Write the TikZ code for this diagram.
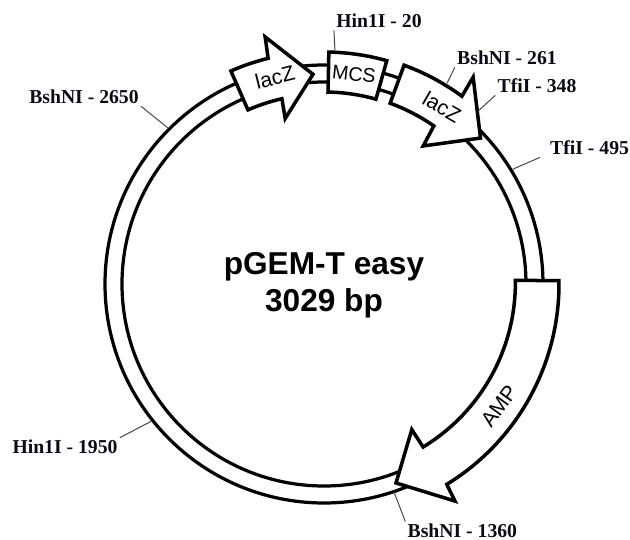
\documentclass[tikz,border=0pt]{standalone}
\usepackage{fontspec}
\setmainfont{Liberation Serif}
\setsansfont{Liberation Sans}
\usepackage{xcolor}
\usepackage{tikz}
\definecolor{mydark}{RGB}{10,10,20}
\definecolor{mytick}{RGB}{70,70,70}
\tikzset{
  ring/.style={draw=black, line width=2.3pt},
  feature/.style={draw=black, fill=white, line width=2.5pt, line join=miter},
  sitelabel/.style={font=\fontsize{14}{16}\selectfont\bfseries, text=mydark, inner sep=1.5pt},
  featlabel/.style={font=\fontsize{15}{16}\sffamily, text=black, inner sep=0pt},
  tickline/.style={draw=mytick, line width=0.7pt}
}
\begin{document}
\begin{tikzpicture}
  \useasboundingbox (-8.1,-6.4) rectangle (7.65,7.1);

  % backbone
  \draw[ring] (0,0) circle (5.475);
  \draw[ring] (0,0) circle (5.05);

  % features
  \draw[feature] (113.6:5.8125) arc[start angle=113.6, end angle=103.9, radius=5.8125]
    -- (103.4:6.35) -- (93:5.25) -- (103.2:4.25) -- (102.8:4.75)
    arc[start angle=102.8, end angle=113.6, radius=4.75] -- cycle;
  \draw[feature] (88.8:5.8) arc[start angle=88.8, end angle=74.3, radius=5.8]
    -- (74.3:4.8) arc[start angle=74.3, end angle=88.8, radius=4.8] -- cycle;
  \draw[feature] (69.9:5.825) arc[start angle=69.9, end angle=53.7, radius=5.825]
    -- (54.2:6.375) -- (43:5.35) -- (54.3:4.25) -- (55.2:4.8125)
    arc[start angle=55.2, end angle=69.9, radius=4.8125] -- cycle;
  \draw[feature] (0.8:5.875) arc[start angle=0.8, end angle=-58.5, radius=5.875]
    -- (-58.9:6.3375) -- (-70.1:5.29) -- (-58.9:4.25) -- (-58.7:4.77)
    arc[start angle=-58.7, end angle=0.8, radius=4.8] -- cycle;

  % feature names
  \node[featlabel, rotate=14] (lacza) at (-1.225,5.175) {lacZ};
  \node[featlabel, rotate=-6, font=\fontsize{14}{16}\sffamily] (mcs) at (0.75,5.25) {MCS};
  \node[featlabel, rotate=-30] (laczb) at (2.95,4.425) {lacZ};
  \node[featlabel, rotate=54] (amp) at (4.375,-3.05) {AMP};

  % title
  \node[font=\fontsize{22.5}{26.5}\sffamily\bfseries, align=center, inner sep=0pt] (title) at (0,-0.03) {pGEM-T easy\\3029 bp};

  % restriction sites
  \node[sitelabel] (hin20) at (1.375,6.575) {Hin1I - 20};
  \node[sitelabel] (bsh261) at (4.575,5.65) {BshNI - 261};
  \node[sitelabel] (tfi348) at (5.325,4.95) {TfiI - 348};
  \node[sitelabel] (tfi495) at (6.64,3.4) {TfiI - 495};
  \node[sitelabel] (bsh2650) at (-6.0,4.675) {BshNI - 2650};
  \node[sitelabel] (hin1950) at (-6.475,-4.075) {Hin1I - 1950};
  \node[sitelabel] (bsh1360) at (3.46,-6.17) {BshNI - 1360};

  \coordinate (site20) at (87.3:5.825);
  \coordinate (site261) at (58.5:5.89);
  \coordinate (site348) at (48.3:5.79);
  \coordinate (site495) at (31.3:5.525);
  \coordinate (site2650) at (135:5.515);
  \coordinate (site1950) at (218.5:5.5);
  \coordinate (site1360) at (288.6:5.475);

  \draw[tickline] (hin20.south west) -- (site20);
  \draw[tickline] (bsh261.south west) -- (site261);
  \draw[tickline] (tfi348.south west) -- (site348);
  \draw[tickline] ([xshift=-0.2cm]tfi495.south west) -- (site495);
  \draw[tickline] (bsh2650.south east) -- (site2650);
  \draw[tickline] (hin1950.north east) -- (site1950);
  \draw[tickline] (bsh1360.north west) -- (site1360);
\end{tikzpicture}
\end{document}
